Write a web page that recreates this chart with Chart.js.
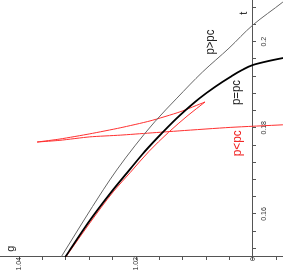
<!DOCTYPE html>
<html>
<head>
<meta charset="utf-8">
<script src="https://cdn.jsdelivr.net/npm/chart.js@4/dist/chart.umd.min.js"></script>
<style>
  html, body { margin: 0; padding: 0; background: #fff; overflow: hidden; }
  #wrap {
    position: absolute; left: 0; top: 0; width: 271px; height: 283px;
    transform-origin: 0 0; transform: translate(0, 271px) rotate(-90deg);
  }
</style>
</head>
<body>
<div id="wrap"><canvas id="c" width="271" height="283"></canvas></div>
<script>
// the plot is drawn upright (t across, g up) and turned a quarter turn by css

// p > pc
const tGray = [0.1500, 0.1579, 0.1656, 0.1702, 0.1758, 0.1814, 0.1869, 0.1930, 0.1985, 0.2039, 0.2092, 0.2102]
const gGray = [1.0328, 1.0292, 1.0256, 1.0233, 1.0202, 1.0168, 1.0130, 1.0086, 1.0041, 1.0000, 0.9949, 0.9940]

// p = pc
const tBlack = [0.1500, 0.1579, 0.1653, 0.1696, 0.1745, 0.1790, 0.1829, 0.1869, 0.1895, 0.1918, 0.1934, 0.1946, 0.1955, 0.1962, 0.1965]
const gBlack = [1.0321, 1.0282, 1.0241, 1.0215, 1.0185, 1.0154, 1.0125, 1.0091, 1.0065, 1.0039, 1.0019, 1.0000, 0.9974, 0.9949, 0.9937]

// p < pc, three branches joined at the cusps
const tRedLow = [0.1500, 0.1579, 0.1653, 0.1696, 0.1745, 0.1790, 0.1829, 0.1860]
const gRedLow = [1.0320, 1.0279, 1.0238, 1.0210, 1.0178, 1.0144, 1.0111, 1.0082]
const tRedA = [0.1860, 0.1837, 0.1816, 0.1800, 0.1786, 0.1774, 0.1767]
const gRedA = [1.0082, 1.0125, 1.0176, 1.0227, 1.0279, 1.0330, 1.0369]
const tRedB = [0.1767, 0.1771, 0.1779, 0.1783, 0.1788, 0.1793, 0.1801, 0.1807, 0.1808]
const gRedB = [1.0369, 1.0330, 1.0279, 1.0227, 1.0176, 1.0125, 1.0039, 0.9949, 0.9937]

const tTickVals = [0.16, 0.18, 0.2]
const tTickText = ['0.16', '0.18', '0.2']
const gTickVals = [1.04, 1.02, 1.00]
const gTickText = ['1.04', '1.02', '0']

const notes = [
  {text: 't', t: 0.2066, g: 1.0010, color: '#222', size: 11, width: 4},
  {text: 'g', t: 0.1519, g: 1.0409, color: '#222', size: 11, width: 6},
  {text: 'p>pc', t: 0.1999, g: 1.0066, color: '#222', size: 13, width: 25},
  {text: 'p=pc', t: 0.1882, g: 1.0023, color: '#222', size: 13, width: 25},
  {text: 'p<pc', t: 0.1764, g: 1.0021, color: '#f02020', size: 13, width: 26}
]

const FONT = "'Liberation Sans', Arial, sans-serif"

function zip(ts, gs) {
  return ts.map((t, i) => ({x: t, y: gs[i]}))
}

function pickLabel(vals, texts) {
  return function(value) {
    for (let i = 0; i < vals.length; i++) {
      if (Math.abs(value - vals[i]) < 1e-6) return texts[i]
    }
    return ''
  }
}

// positioned axes still ask for room for their end labels; give none
function noPad(scale) {
  scale.paddingTop = 0
  scale.paddingBottom = 0
  scale.paddingLeft = 0
  scale.paddingRight = 0
}

// narrow lettering: squeeze each note to its width
const notesPlugin = {
  id: 'notes',
  afterDatasetsDraw(chart) {
    const ctx = chart.ctx
    const xs = chart.scales.x, ys = chart.scales.y
    notes.forEach(n => {
      ctx.save()
      ctx.font = n.size + 'px ' + FONT
      const w = ctx.measureText(n.text).width
      ctx.translate(xs.getPixelForValue(n.t), ys.getPixelForValue(n.g))
      ctx.scale(Math.min(1, n.width / w), 1)
      ctx.textAlign = 'center'
      ctx.textBaseline = 'alphabetic'
      ctx.fillStyle = n.color
      ctx.fillText(n.text, 0, 0)
      ctx.restore()
    })
  }
}

const axisColor = '#555'

const line = (data, color, width, smooth) => ({
  data: data,
  showLine: true,
  borderColor: color,
  borderWidth: width,
  pointRadius: 0,
  cubicInterpolationMode: smooth ? 'monotone' : 'default',
  tension: smooth ? 0 : 0.2,
  fill: false
})

new Chart(document.getElementById('c'), {
  type: 'scatter',
  data: {
    datasets: [
      line(zip(tGray, gGray), '#666', 1, true),
      line(zip(tBlack, gBlack), '#000', 1.8, true),
      line(zip(tRedLow, gRedLow), '#ff3030', 1, true),
      line(zip(tRedA, gRedA), '#ff3030', 1, false),
      line(zip(tRedB, gRedB), '#ff3030', 1, false)
    ]
  },
  options: {
    responsive: false,
    animation: false,
    layout: {padding: {left: 14, right: 0, top: 0, bottom: 0}},
    plugins: {legend: {display: false}, tooltip: {enabled: false}},
    scales: {
      x: {
        type: 'linear',
        min: 0.15,
        max: 0.20968,
        position: {y: 1.0},
        afterFit: noPad,
        grid: {drawOnChartArea: false, drawTicks: true, tickLength: 3, color: axisColor},
        border: {display: true, color: axisColor, width: 1},
        ticks: {
          stepSize: 0.004, includeBounds: false, autoSkip: false,
          maxRotation: 0, minRotation: 0, padding: 4,
          color: '#333', font: {family: FONT, size: 7},
          callback: pickLabel(tTickVals, tTickText)
        }
      },
      y: {
        type: 'linear',
        min: 0.99487,
        max: 1.04325,
        position: {x: 0.15},
        afterFit: noPad,
        grid: {drawOnChartArea: false, drawTicks: true, tickLength: 3, color: axisColor},
        border: {display: true, color: axisColor, width: 1},
        ticks: {
          stepSize: 0.004, includeBounds: false, autoSkip: false, padding: 1,
          color: '#333', font: {family: FONT, size: 7},
          callback: pickLabel(gTickVals, gTickText)
        }
      }
    }
  },
  plugins: [notesPlugin]
})
</script>
</body>
</html>
